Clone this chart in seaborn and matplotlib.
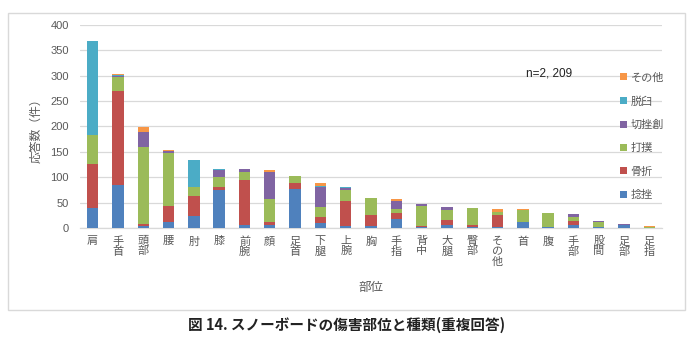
import matplotlib
matplotlib.use("Agg")
import matplotlib.pyplot as plt
import seaborn as sns
import pandas as pd
import numpy as np
from matplotlib.patches import Patch, Rectangle

# ---- data ----
categories = ['肩', '手首', '頭部', '腰', '肘', '膝', '前腕', '顔', '足首', '下腿', '上腕', '胸',
              '手指', '背中', '大腿', '臀部', 'その他', '首', '腹', '手部', '股間', '足部', '足指']
sprain      = [40, 84, 4, 11, 24, 74, 6, 5, 76, 9, 3, 4, 17, 1, 6, 1, 2, 12, 1, 5, 2, 6, 0]
fracture    = [86, 186, 4, 32, 40, 6, 89, 6, 13, 13, 50, 22, 13, 3, 10, 4, 23, 0, 0, 8, 0, 0, 0]
bruise      = [57, 27, 151, 104, 16, 21, 16, 47, 13, 20, 21, 34, 8, 39, 20, 35, 7, 23, 29, 8, 9, 0, 1]
cut         = [0, 3, 30, 5, 0, 14, 5, 53, 0, 38, 4, 0, 16, 4, 5, 0, 0, 0, 0, 6, 2, 2, 0]
dislocation = [185, 2, 0, 0, 54, 2, 0, 0, 0, 3, 3, 0, 0, 0, 0, 0, 0, 0, 0, 0, 0, 0, 0]
other       = [0, 1, 10, 2, 0, 0, 0, 4, 0, 6, 0, 0, 4, 0, 0, 0, 6, 2, 0, 1, 0, 0, 2]

series_names = ['捻挫', '骨折', '打撲', '切挫創', '脱臼', 'その他']
series_values = [sprain, fracture, bruise, cut, dislocation, other]
series_colors = ['#4F81BD', '#C0504D', '#9BBB59', '#8064A2', '#4BACC6', '#F79646']

sns.set_theme(style="white")
plt.rcParams['font.family'] = ['Noto Sans CJK JP', 'DejaVu Sans']

fig = plt.figure(figsize=(6.95, 3.39), dpi=100)
ax = fig.add_axes([80/695, 111/339, 582/695, 203/339])

# frame around the chart
fig.patches.append(Rectangle((8/695, 29/339), 677/695, 297/339, transform=fig.transFigure,
                             fill=False, edgecolor='#D9D9D9', linewidth=1.0))

# cumulative stacking, draw topmost first
cum = np.cumsum(np.array(series_values), axis=0)
for i in range(len(series_names) - 1, -1, -1):
    d = pd.DataFrame({'部位': categories, 'v': cum[i]})
    sns.barplot(data=d, x='部位', y='v', order=categories, color=series_colors[i],
                saturation=1, width=0.45, ax=ax, linewidth=0, zorder=3)

ax.set_ylim(0, 400)
ax.set_xlim(-0.5, len(categories) - 0.5)
ax.set_yticks(range(0, 401, 50))
ax.yaxis.grid(True, color='#D9D9D9', linewidth=0.9, zorder=0)
ax.set_axisbelow(True)
for s in ['top', 'right', 'left']:
    ax.spines[s].set_visible(False)
ax.spines['bottom'].set_color('#D9D9D9')
ax.spines['bottom'].set_linewidth(0.9)
ax.tick_params(axis='both', length=0, colors='#595959')
ax.tick_params(axis='y', pad=8, labelsize=8)
ax.tick_params(axis='x', pad=6, labelsize=8)
for t in ax.get_yticklabels():
    t.set_family('Liberation Sans')
ax.set_xticks(range(len(categories)))
ax.set_xticklabels(['\n'.join(c) for c in categories], linespacing=1.0, va='top')
ax.set_xlabel('')
ax.set_ylabel('')

fig.text(36/695, (339-128)/339, '応答数（件）', rotation=90, ha='center', va='center',
         fontsize=8.5, color='#595959')
fig.text(371/695, (339-287)/339, '部位', ha='center', va='center', fontsize=9, color='#595959')
fig.text(347/695, (339-325)/339, '図 14. スノーボードの傷害部位と種類(重複回答)', ha='center',
         va='center', fontsize=10.5, fontweight='bold', color='#222222')
fig.text(526/695, (339-74)/339, 'n=2, 209', ha='left', va='center', fontsize=8.5,
         color='#222222', family='Liberation Sans')

handles = [Patch(facecolor=series_colors[i], edgecolor='none', label=series_names[i])
           for i in range(len(series_names) - 1, -1, -1)]
leg = fig.legend(handles=handles, loc='upper left', bbox_to_anchor=(616/695, (339-68)/339),
                 frameon=False, fontsize=8, handlelength=0.6, handleheight=0.6,
                 handletextpad=0.3, labelspacing=1.2, borderaxespad=0)
for t in leg.get_texts():
    t.set_color('#595959')

fig.savefig('out.png', dpi=100)
